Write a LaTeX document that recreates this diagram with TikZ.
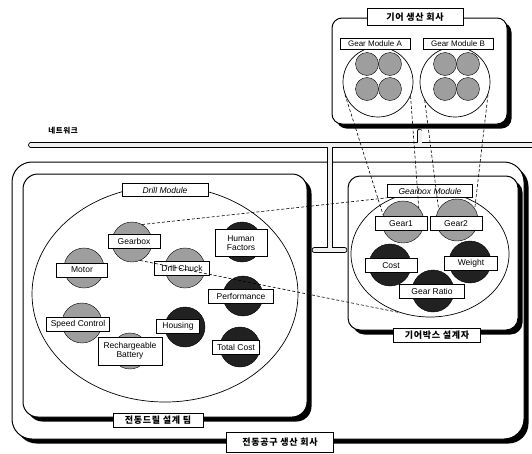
\documentclass[tikz,border=0pt]{standalone}
\usepackage{fontspec}
\setmainfont{Liberation Sans}
\newfontfamily\krfont[LetterSpace=8]{Noto Sans CJK KR}
\usepackage{tikz}
\usetikzlibrary{shapes.geometric, shadows, calc}
\definecolor{gearlight}{gray}{0.62}
\definecolor{geardark}{gray}{0.13}

\begin{document}
\begin{tikzpicture}[x=1pt, y=-1pt,
    hull/.style={draw, line width=1pt, fill=white, rounded corners=#1, inner sep=0pt,
                 general shadow={fill=black, shadow xshift=4.5pt, shadow yshift=-4.5pt}},
    modl/.style={ellipse, draw, line width=0.7pt, inner sep=0pt},
    disk/.style={circle, draw, line width=0.4pt, fill=#1, minimum size=40pt, inner sep=0pt},
    tag/.style={draw, line width=0.6pt, fill=white, minimum width=#1, minimum height=14pt,
                inner sep=1pt, align=center, font=\fontsize{8.5}{9.5}\selectfont},
    ktag/.style={draw, line width=0.7pt, fill=white, minimum width=#1, inner sep=1pt,
                 font=\krfont\bfseries\fontsize{9}{10}\selectfont},
    pipe/.style={double=gray!12, double distance=4pt, line width=0.9pt, line cap=round},
    link/.style={dashed, dash pattern=on 3pt off 2pt, line width=0.6pt},
]
    \useasboundingbox (0, 0) rectangle (532, 453);

    % Companies and teams
    \node[hull=20pt, minimum width=512pt, minimum height=277pt] (toolco) at (268, 300.5) {};
    \node[hull=15pt, minimum width=284pt, minimum height=243pt] (drillteam) at (165, 295.5) {};
    \node[hull=12pt, minimum width=170pt, minimum height=154pt] (gearteam) at (433, 253) {};
    \node[hull=10pt, minimum width=175pt, minimum height=106pt] (gearco) at (419.5, 71) {};

    % Network
    \coordinate (netL) at (31, 145);
    \coordinate (netR) at (540, 145);
    \coordinate (tee) at (330, 250);
    \node[font=\krfont\bfseries\fontsize{7.5}{9}\selectfont] (netlbl) at (63, 131) {네트워크};
    \draw[pipe] (netL) -- (netR)
        ($(gearco.south)+(0,7)$) -- (gearco.south |- netL)
        (tee |- netL) -- (tee)
        ($(drillteam.east |- tee)+(7,0)$) -- ($(gearteam.west |- tee)+(-3,0)$);

    % Modules
    \node[modl, minimum width=266pt, minimum height=216pt] (drillmod) at (165, 294) {};
    \node[modl, minimum width=158pt, minimum height=126pt] (gbmod) at (430, 254) {};
    \node[disk=white, line width=0.7pt, minimum size=70pt] (modA) at (378, 82) {};
    \node[disk=white, line width=0.7pt, minimum size=70pt] (modB) at (455, 82) {};
    \foreach \x/\y in {367/64, 390/64, 367/89, 390/89, 445/64, 468/64, 445/89, 468/89}
        \node[disk=gearlight, minimum size=23pt] (g-\x-\y) at (\x, \y) {};

    % Drill parts
    \node[disk=gearlight] (gearbox) at (132, 242) {};
    \node[disk=gearlight] (motor) at (84, 268) {};
    \node[disk=gearlight] (chuck) at (185, 268) {};
    \node[disk=geardark] (human) at (242, 242) {};
    \node[disk=geardark] (perf) at (243, 296) {};
    \node[disk=gearlight] (speed) at (82, 323) {};
    \node[disk=geardark] (housing) at (185, 327) {};
    \node[disk=gearlight, minimum size=36pt] (battery) at (130, 351) {};
    \node[disk=geardark] (totcost) at (240, 347) {};

    % Gearbox parts
    \node[disk=gearlight, minimum size=42pt] (gear1) at (403, 222) {};
    \node[disk=gearlight, minimum size=42pt] (gear2) at (457, 220) {};
    \node[disk=geardark, minimum size=42pt] (cost) at (390, 265) {};
    \node[disk=geardark, minimum size=42pt] (weight) at (470, 262) {};
    \node[disk=geardark, minimum size=42pt] (ratio) at (433, 291) {};

    % Labels
    \node[tag=52pt] (gearboxL) at (134, 241) {Gearbox};
    \node[tag=51pt] (motorL) at (82, 270) {Motor};
    \node[tag=55pt] (chuckL) at (182, 268) {Drill Chuck};
    \node[tag=52pt, minimum height=27pt] (humanL) at (241, 243) {Human\\Factors};
    \node[tag=65pt] (perfL) at (241, 296) {Performance};
    \node[tag=63pt] (speedL) at (78, 324) {Speed Control};
    \node[tag=43pt] (housingL) at (178, 326) {Housing};
    \node[tag=64pt, minimum height=28pt] (batteryL) at (130, 351) {Rechargeable\\Battery};
    \node[tag=47pt] (totcostL) at (236, 347) {Total Cost};
    \node[tag=52pt] (gear1L) at (401, 223.5) {Gear1};
    \node[tag=52pt] (gear2L) at (456, 223.5) {Gear2};
    \node[tag=52pt] (costL) at (391, 265.5) {Cost};
    \node[tag=53pt] (weightL) at (471, 263) {Weight};
    \node[tag=65pt] (ratioL) at (432, 291.5) {Gear Ratio};
    \node[tag=86pt, minimum height=13pt, font=\fontsize{8.5}{9.5}\selectfont\itshape] (drillmodL) at (165, 190) {Drill Module};
    \node[tag=85pt, minimum height=13pt, font=\fontsize{8.5}{9.5}\selectfont\itshape] (gbmodL) at (430, 191) {Gearbox Module};
    \node[tag=70pt, minimum height=11pt, font=\fontsize{8}{8.5}\selectfont] (modAL) at (375, 43.5) {Gear Module A};
    \node[tag=70pt, minimum height=11pt, font=\fontsize{8}{8.5}\selectfont] (modBL) at (458, 43.5) {Gear Module B};

    \node[ktag=96pt, minimum height=17pt] (gearcoL) at (415, 17) {기어 생산 회사};
    \node[ktag=90pt, minimum height=14pt] (drillteamL) at (158, 420) {전동드릴 설계 팀};
    \node[ktag=87pt, minimum height=14pt] (gearteamL) at (437, 335) {기어박스 설계자};
    \node[ktag=107pt, minimum height=20pt] (toolcoL) at (280, 442) {전동공구 생산 회사};

    % Dashed links
    \draw[link] (gearbox.60) -- (gbmodL.south west);
    \draw[link] (gearbox.-66) -- (gbmod.243);
    \draw[link] (modA.201) -- (gear1.160);
    \draw[link] (modA.-23) -- (gear1.42);
    \draw[link] (modB.211) -- (gear2.150);
    \draw[link] (modB.-21) -- (gear2.33);
\end{tikzpicture}
\end{document}
